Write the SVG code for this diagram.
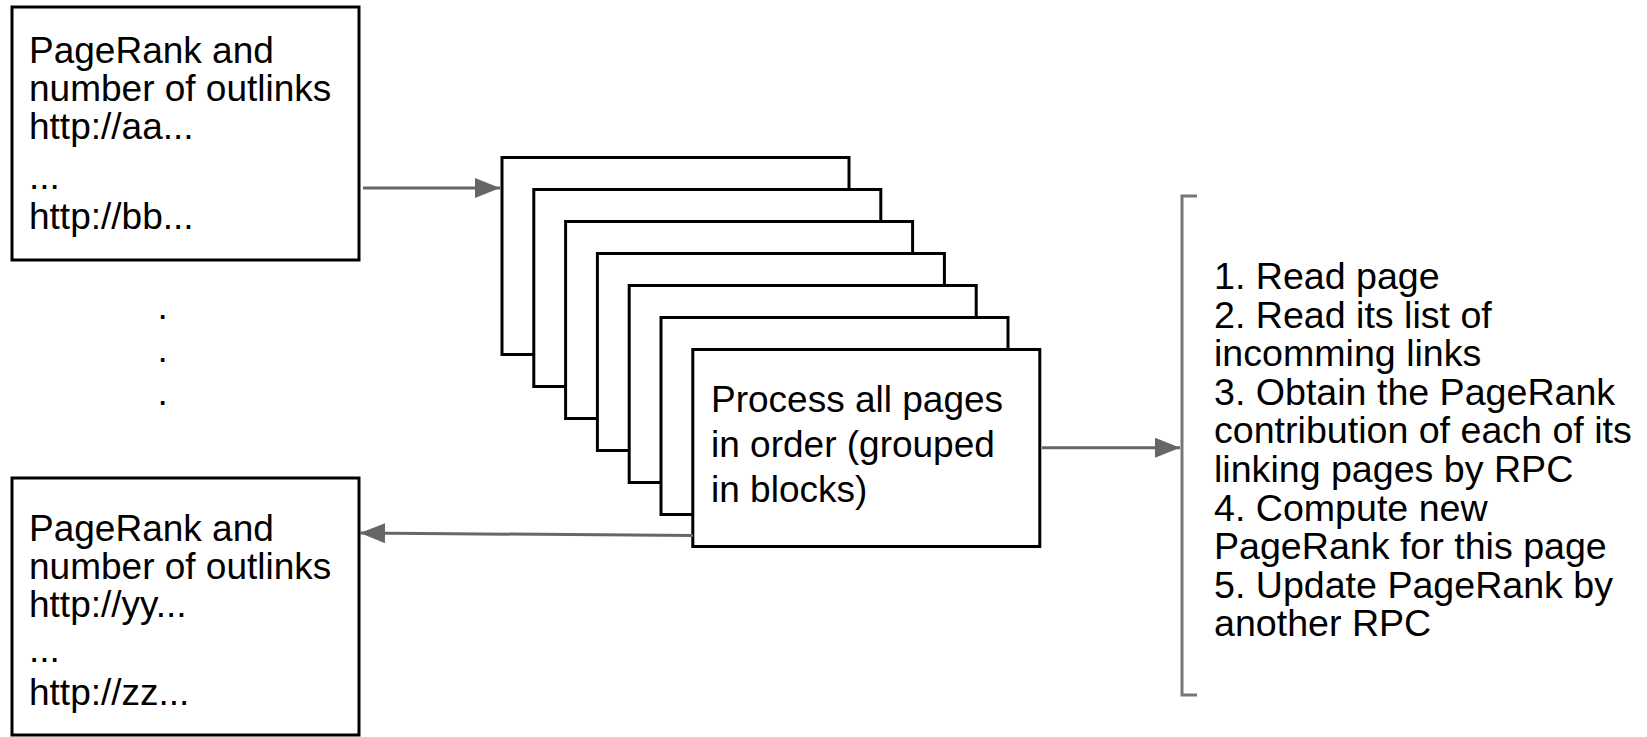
<svg xmlns="http://www.w3.org/2000/svg" width="1647" height="737" viewBox="0 0 1647 737">
  <defs>
    <style>
      .box { fill: #ffffff; stroke: #000000; stroke-width: 3; }
      .txt { font-family: "Liberation Sans", Arial, sans-serif; font-size: 37px; fill: #000000; }
      .list { font-size: 37.6px; }
      .conn { stroke: #666666; stroke-width: 3; fill: none; }
      .bracket { stroke: #777777; stroke-width: 3; fill: none; }
    </style>
    <marker id="arrow" markerUnits="userSpaceOnUse" markerWidth="26" markerHeight="20" refX="25" refY="10" orient="auto">
      <path d="M0,0 L25,10 L0,20 Z" fill="#666666"/>
    </marker>
  </defs>
  <rect width="1647" height="737" fill="#ffffff"/>

  <g id="input-box">
    <rect class="box" x="12" y="7" width="347" height="253"/>
    <text class="txt">
      <tspan x="29" y="63">PageRank and</tspan>
      <tspan x="29" y="101">number of outlinks</tspan>
      <tspan x="29" y="139">http://aa...</tspan>
      <tspan x="29" y="189">...</tspan>
      <tspan x="29" y="229">http://bb...</tspan>
    </text>
  </g>

  <g id="ellipsis-dots">
    <text class="txt">
      <tspan x="157.5" y="319">.</tspan>
      <tspan x="157.5" y="362">.</tspan>
      <tspan x="157.5" y="405">.</tspan>
    </text>
  </g>

  <g id="output-box">
    <rect class="box" x="12" y="478" width="347" height="257"/>
    <text class="txt">
      <tspan x="29" y="541">PageRank and</tspan>
      <tspan x="29" y="579">number of outlinks</tspan>
      <tspan x="29" y="617">http://yy...</tspan>
      <tspan x="29" y="662">...</tspan>
      <tspan x="29" y="705">http://zz...</tspan>
    </text>
  </g>

  <g id="process-stack">
    <rect class="box" x="502" y="157.5" width="347" height="197"/>
    <rect class="box" x="533.8" y="189.5" width="347" height="197"/>
    <rect class="box" x="565.6" y="221.5" width="347" height="197"/>
    <rect class="box" x="597.4" y="253.5" width="347" height="197"/>
    <rect class="box" x="629.2" y="285.5" width="347" height="197"/>
    <rect class="box" x="661" y="317.5" width="347" height="197"/>
    <rect class="box" x="692.8" y="349.5" width="347" height="197"/>
    <text class="txt">
      <tspan x="711" y="412">Process all pages</tspan>
      <tspan x="711" y="456.5">in order (grouped</tspan>
      <tspan x="711" y="501.5">in blocks)</tspan>
    </text>
  </g>

  <g id="steps">
    <path class="bracket" d="M1197,196 L1182,196 L1182,695 L1197,695"/>
    <text class="txt list">
      <tspan x="1214" y="289">1. Read page</tspan>
      <tspan x="1214" y="327.6">2. Read its list of</tspan>
      <tspan x="1214" y="366.2">incomming links</tspan>
      <tspan x="1214" y="404.8">3. Obtain the PageRank</tspan>
      <tspan x="1214" y="443.4">contribution of each of its</tspan>
      <tspan x="1214" y="482">linking pages by RPC</tspan>
      <tspan x="1214" y="520.6">4. Compute new</tspan>
      <tspan x="1214" y="559.2">PageRank for this page</tspan>
      <tspan x="1214" y="597.8">5. Update PageRank by</tspan>
      <tspan x="1214" y="636.4">another RPC</tspan>
    </text>
  </g>

  <g id="connectors">
    <line class="conn" x1="363" y1="188" x2="500" y2="188" marker-end="url(#arrow)"/>
    <line class="conn" x1="693" y1="535.5" x2="360" y2="533" marker-end="url(#arrow)"/>
    <line class="conn" x1="1042" y1="447.7" x2="1180" y2="447.7" marker-end="url(#arrow)"/>
  </g>
</svg>
